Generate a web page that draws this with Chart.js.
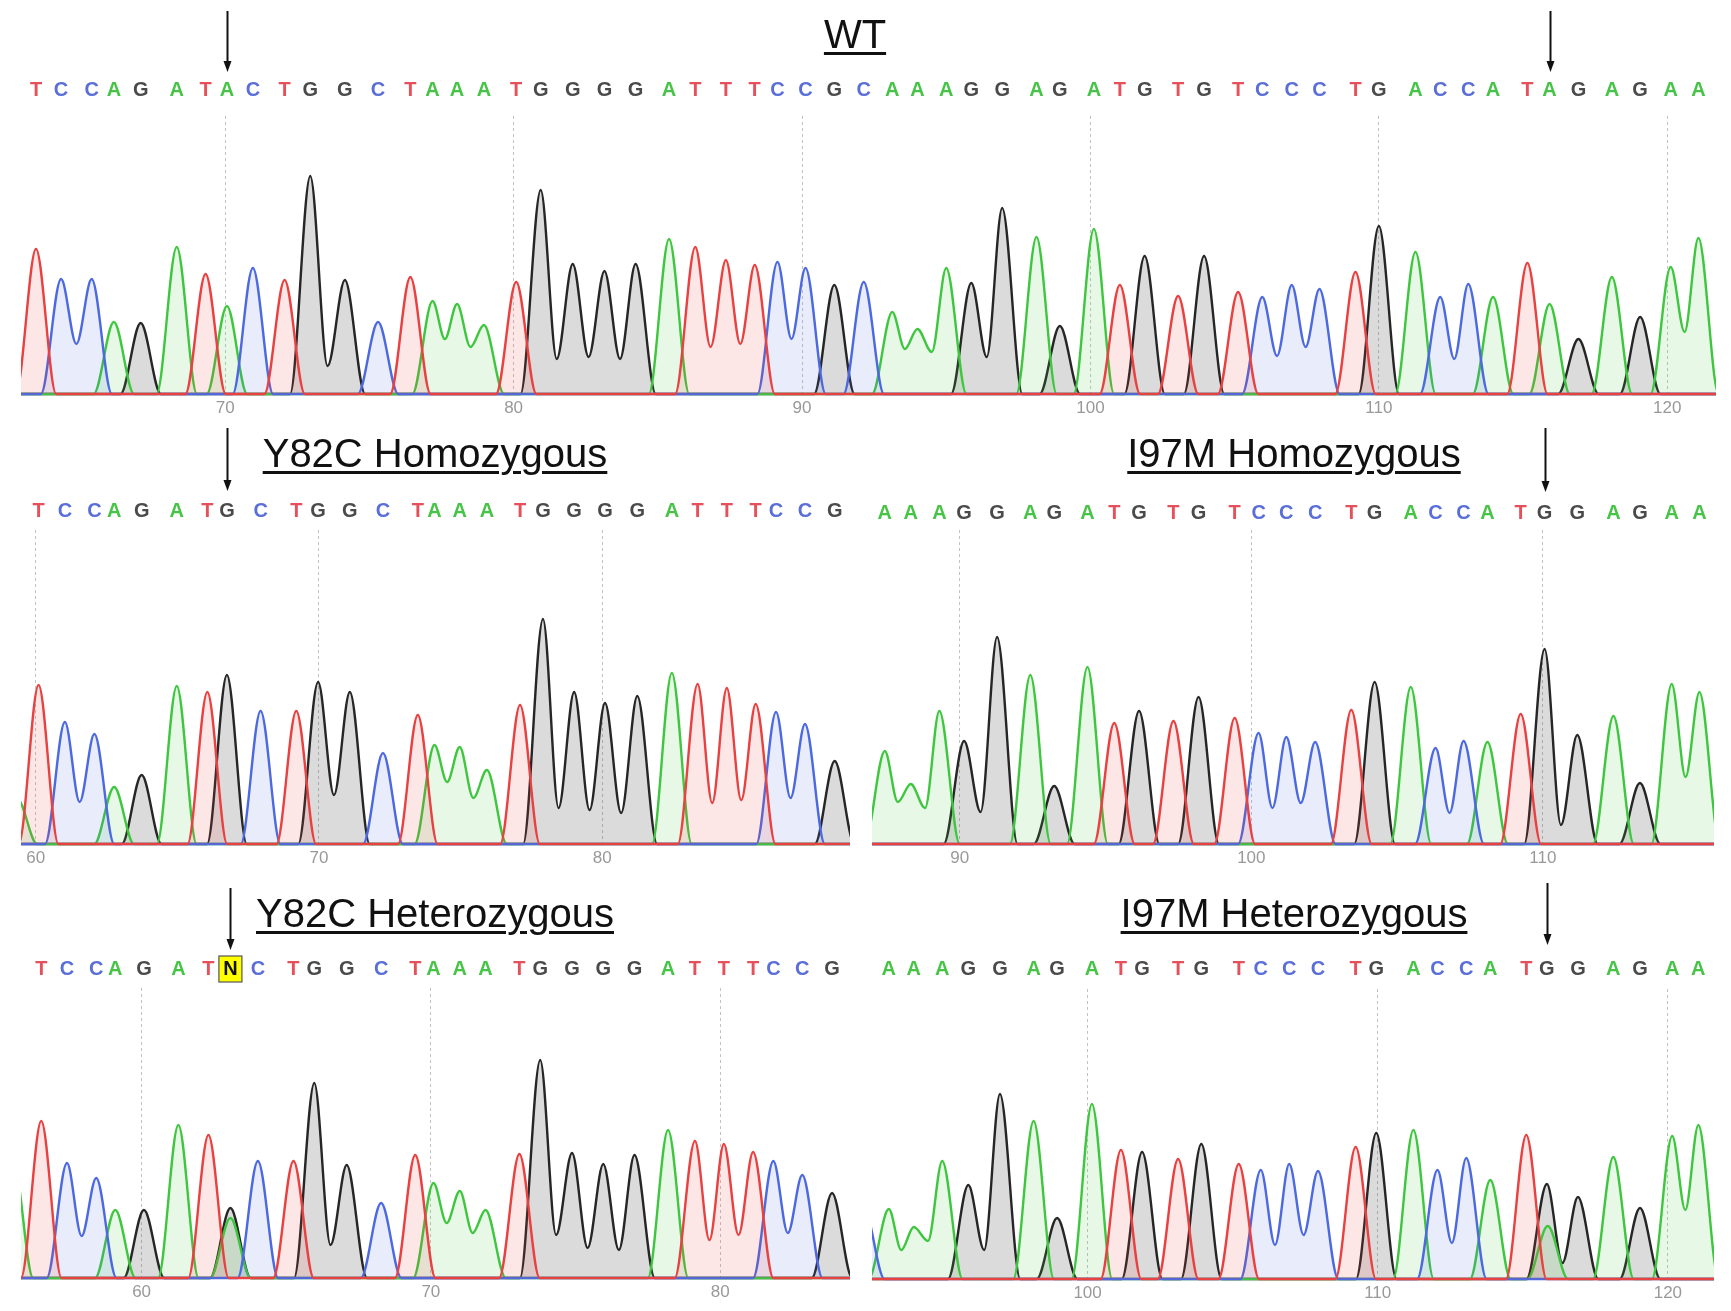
<!DOCTYPE html>
<html><head><meta charset="utf-8">
<script src="https://cdn.jsdelivr.net/npm/chart.js@4.4.1/dist/chart.umd.min.js"></script>
<style>
html,body{margin:0;padding:0;background:#fff;}
#page{position:relative;width:1731px;height:1311px;overflow:hidden;background:#fff;}
canvas{position:absolute;}
.ttl{position:absolute;font-family:"Liberation Sans",Arial,sans-serif;font-size:40px;line-height:40px;color:#111;white-space:nowrap;transform:translateX(-50%);text-decoration:underline;text-decoration-thickness:3px;text-underline-offset:4px;z-index:2;}
</style></head><body><div id="page">
<canvas id="c0" width="1731" height="420" style="left:0px;top:0px"></canvas>
<canvas id="c1" width="860" height="460" style="left:0px;top:420px"></canvas>
<canvas id="c2" width="871" height="460" style="left:860px;top:420px"></canvas>
<canvas id="c3" width="860" height="431" style="left:0px;top:880px"></canvas>
<canvas id="c4" width="871" height="431" style="left:860px;top:880px"></canvas>
<div class="ttl" style="left:855px;top:14px">WT</div>
<div class="ttl" style="left:435px;top:433px">Y82C Homozygous</div>
<div class="ttl" style="left:1294px;top:433px">I97M Homozygous</div>
<div class="ttl" style="left:435px;top:893px">Y82C Heterozygous</div>
<div class="ttl" style="left:1294px;top:893px">I97M Heterozygous</div>
</div>
<script>
// ---------- DATA ----------
// WT
const wtBases = 'TCCAGATACTGGCTAAATGGGGATTTCCGCAAAGGAGATGTGTCCCTGACCATAGAGAA'.split('');
const wtPos = [63.44,64.31,65.37,66.14,67.07,68.32,69.32,70.06,70.96,72.06,72.95,74.15,75.30,76.42,77.19,78.04,78.97,80.09,80.94,82.05,83.15,84.23,85.39,86.30,87.36,88.36,89.15,90.12,91.12,92.14,93.13,94.00,95.00,95.87,96.94,98.13,98.94,100.12,101.02,101.88,103.04,103.94,105.12,105.96,106.98,107.94,109.19,110.00,111.27,112.13,113.10,113.96,115.15,115.92,116.92,118.08,119.06,120.12,121.08];
const wtHeight = [145,115,115,72,71,147,120,88,126,114,218,114,72,117,93,90,69,112,204,130,123,130,155,147,134,129,132,126,109,112,82,65,126,111,186,157,68,165,109,138,98,138,102,97,109,105,122,168,142,97,110,97,131,90,55,117,77,127,156];
const wtDips = [[2,50],[11,28],[15,55],[16,47],[19,35],[20,37],[21,35],[24,47],[25,50],[27,55],[31,45],[32,42],[34,37],[44,38],[45,47],[50,35],[58,62]];
const wtExtra = [];
const wtTicks = [70,80,90,100,110,120];
const wtArrows = [8,54];

// Y82C Homozygous
const y82HomBases = 'TCCAGATGCTGGCTAAATGGGGATTTCCG'.split('');
const y82HomPos = [60.10,61.03,62.07,62.77,63.74,64.98,66.06,66.75,67.94,69.20,69.97,71.09,72.26,73.49,74.08,74.97,75.93,77.10,77.91,79.01,80.10,81.24,82.46,83.37,84.40,85.42,86.14,87.16,88.21];
const y82HomHeight = [159,122,110,57,69,158,152,169,133,133,162,152,91,129,99,97,74,139,225,152,141,148,171,160,156,140,132,120,83];
const y82HomDips = [[2,42],[11,49],[15,62],[16,46],[19,36],[20,34],[21,31],[24,41],[25,44],[27,46]];
const y82HomExtra = [['A',59.35,45]];
const y82HomTicks = [60,70,80];
const y82HomArrows = [8];

// I97M Homozygous
const i97HomBases = 'AAAGGAGATGTGTCCCTGACCATGGAGAA'.split('');
const i97HomPos = [87.43,88.32,89.30,90.15,91.28,92.42,93.24,94.38,95.30,96.15,97.33,98.19,99.43,100.25,101.20,102.19,103.43,104.23,105.47,106.32,107.28,108.10,109.24,110.06,111.18,112.42,113.33,114.42,115.37];
const i97HomHeight = [93,60,133,103,207,169,58,177,121,133,123,147,126,111,107,102,134,162,157,96,103,102,130,195,109,128,61,160,152];
const i97HomDips = [[1,42],[2,36],[4,32],[14,36],[15,41],[20,31],[24,19],[28,67]];
const i97HomExtra = [];
const i97HomTicks = [90,100,110];
const i97HomArrows = [24];

// Y82C Heterozygous
const y82HetBases = 'TCCAGATNCTGGCTAAATGGGGATTTCCG'.split('');
const y82HetPos = [56.53,57.42,58.43,59.09,60.08,61.27,62.31,63.07,64.02,65.25,65.97,67.09,68.28,69.46,70.09,71.00,71.89,73.06,73.78,74.88,75.96,77.04,78.20,79.13,80.13,81.14,81.84,82.84,83.87];
const y82HetHeight = [157,115,100,68,68,153,143,70,117,117,195,113,75,123,95,87,68,124,218,125,114,123,148,137,134,126,117,103,85];
const y82HetDips = [[2,42],[11,33],[15,55],[16,45],[19,43],[20,30],[21,28],[24,38],[25,43],[27,45]];
const y82HetExtra = [['A',63.07,60],['A',55.55,120]];
const y82HetTicks = [60,70,80];
const y82HetArrows = [8];

// I97M Heterozygous
const i97HetBases = 'AAAGGAGATGTGTCCCTGACCATGGAGAA'.split('');
const i97HetPos = [93.15,94.01,94.99,95.89,96.98,98.14,98.95,100.15,101.15,101.88,103.12,103.92,105.21,105.97,106.95,107.94,109.24,109.95,111.23,112.06,113.05,113.88,115.12,115.83,116.90,118.12,119.04,120.15,121.05];
const i97HetHeight = [70,52,118,94,185,158,61,175,129,127,120,135,115,109,115,108,132,146,149,109,121,99,144,95,82,122,71,143,154];
const i97HetDips = [[1,29],[2,38],[4,29],[14,34],[15,44],[20,36],[24,16],[28,69]];
const i97HetExtra = [['A',115.86,53],['C',92.3,70]];
const i97HetTicks = [100,110,120];
const i97HetArrows = [24];

// ---------- STYLE ----------
const FONT = '"Liberation Sans", Arial, sans-serif';
const LINE = {A:'#3fc63f', C:'#4d69df', G:'#262626', T:'#e84141'};
const FILL = {A:'rgba(70,200,70,0.13)', C:'rgba(80,105,225,0.13)', G:'rgba(40,40,40,0.17)', T:'rgba(232,65,65,0.13)'};
const LETTER = {A:'#47c447', C:'#5a6ed8', G:'#4a4a4a', T:'#e6505a', N:'#111'};
const HW = 0.7;

function buildPoints(ch, d) {
  const dipMap = {};
  d.dips.forEach(([k, v]) => { dipMap[k] = v; });
  const peaks = [];
  d.bases.forEach((b, i) => {
    if (b === ch || (b === 'N' && ch === 'G')) peaks.push({x: d.pos[i], h: d.height[i], idx: i});
  });
  d.extra.forEach(([c, x, h]) => { if (c === ch) peaks.push({x: x, h: h, idx: -10}); });
  peaks.sort((a, b) => a.x - b.x);
  const pts = [{x: d.min - 2, y: 0}];
  let prev = null;
  for (const p of peaks) {
    if (prev && p.idx === prev.idx + 1 && dipMap[prev.idx + 1] !== undefined) {
      pts.push({x: (prev.x + p.x) / 2, y: dipMap[prev.idx + 1]});
    } else if (prev) {
      const a = prev.x + HW, b = p.x - HW;
      if (b > a) { pts.push({x: a, y: 0}); pts.push({x: b, y: 0}); }
      else pts.push({x: (prev.x + p.x) / 2, y: 0});
    } else {
      pts.push({x: p.x - HW, y: 0});
    }
    pts.push({x: p.x, y: p.h});
    prev = p;
  }
  if (prev) pts.push({x: prev.x + HW, y: 0});
  pts.push({x: d.max + 2, y: 0});
  return pts;
}

function makePanel(id, d, L) {
  const datasets = ['T', 'C', 'A', 'G'].map(ch => ({
    label: ch,
    data: buildPoints(ch, d),
    borderColor: LINE[ch],
    backgroundColor: FILL[ch],
    fill: 'origin',
    borderWidth: 2.4,
    pointRadius: 0,
    cubicInterpolationMode: 'monotone',
    xAxisID: 'x', yAxisID: 'y'
  }));
  const letterCY = L.topH - L.topPad - 12;
  const marks = {
    id: 'marks' + id,
    beforeDraw(chart) {
      const xs = chart.scales.x, ctx = chart.ctx;
      d.bases.forEach((b, i) => {
        if (b !== 'N') return;
        const x = xs.getPixelForValue(d.pos[i]);
        ctx.save();
        ctx.fillStyle = '#ffff00';
        ctx.strokeStyle = '#555';
        ctx.lineWidth = 1.2;
        ctx.fillRect(x - 11.5, letterCY - 13, 23, 26);
        ctx.strokeRect(x - 11.5, letterCY - 13, 23, 26);
        ctx.restore();
      });
    },
    afterDraw(chart) {
      const xs = chart.scales.x, ctx = chart.ctx;
      d.arrows.forEach(n => {
        const x = Math.round(xs.getPixelForValue(d.pos[n - 1])) + 0.5;
        ctx.save();
        ctx.strokeStyle = '#111';
        ctx.fillStyle = '#111';
        ctx.lineWidth = 2;
        ctx.beginPath();
        ctx.moveTo(x, L.arrowTop);
        ctx.lineTo(x, L.arrowBottom - 8);
        ctx.stroke();
        ctx.beginPath();
        ctx.moveTo(x - 4, L.arrowBottom - 11);
        ctx.lineTo(x + 4, L.arrowBottom - 11);
        ctx.lineTo(x, L.arrowBottom);
        ctx.closePath();
        ctx.fill();
        ctx.restore();
      });
    }
  };
  return new Chart(document.getElementById(id), {
    type: 'line',
    data: {datasets: datasets},
    options: {
      responsive: false,
      animation: false,
      events: [],
      layout: {padding: {left: L.padL, right: L.padR, top: 0, bottom: 0}},
      plugins: {legend: {display: false}, tooltip: {enabled: false}, title: {display: false}},
      scales: {
        x: {
          type: 'linear', position: 'bottom', min: d.min, max: d.max, bounds: 'data',
          afterBuildTicks: s => { s.ticks = d.ticks.map(v => ({value: v})); },
          afterFit: s => { s.height = L.bottomH; },
          ticks: {autoSkip: false, maxRotation: 0, padding: 1, color: '#999999',
                  font: {family: FONT, size: 17}, callback: v => String(v)},
          grid: {color: 'rgba(0,0,0,0.24)', lineWidth: 1, drawTicks: false},
          border: {display: false, dash: [3, 3]}
        },
        top: {
          type: 'linear', position: 'top', min: d.min, max: d.max, bounds: 'data',
          afterBuildTicks: s => { s.ticks = d.pos.map(v => ({value: v})); },
          afterFit: s => { s.height = L.topH; },
          ticks: {autoSkip: false, maxRotation: 0, minRotation: 0, padding: L.topPad,
                  font: {family: FONT, size: 20, weight: 'bold'},
                  color: c => LETTER[d.bases[c.index]] || '#444',
                  callback: (v, i) => d.bases[i]},
          grid: {display: false, drawTicks: false},
          border: {display: false}
        },
        y: {display: false, min: -3, max: L.ymax}
      }
    },
    plugins: [marks]
  });
}

makePanel('c0', {bases: wtBases, pos: wtPos, height: wtHeight, dips: wtDips, extra: wtExtra,
  ticks: wtTicks, arrows: wtArrows, min: 62.92, max: 121.69},
  {padL: 21, padR: 15, topH: 116, topPad: 14, bottomH: 23, ymax: 278, arrowTop: 11, arrowBottom: 72});
makePanel('c1', {bases: y82HomBases, pos: y82HomPos, height: y82HomHeight, dips: y82HomDips, extra: y82HomExtra,
  ticks: y82HomTicks, arrows: y82HomArrows, min: 59.48, max: 88.75},
  {padL: 21, padR: 10, topH: 110, topPad: 7, bottomH: 33, ymax: 314, arrowTop: 8, arrowBottom: 71});
makePanel('c2', {bases: i97HomBases, pos: i97HomPos, height: i97HomHeight, dips: i97HomDips, extra: i97HomExtra,
  ticks: i97HomTicks, arrows: i97HomArrows, min: 86.99, max: 115.87},
  {padL: 12, padR: 17, topH: 110, topPad: 5, bottomH: 33, ymax: 314, arrowTop: 8, arrowBottom: 72});
makePanel('c3', {bases: y82HetBases, pos: y82HetPos, height: y82HetHeight, dips: y82HetDips, extra: y82HetExtra,
  ticks: y82HetTicks, arrows: y82HetArrows, min: 55.83, max: 84.49},
  {padL: 21, padR: 10, topH: 108, topPad: 7, bottomH: 30, ymax: 290, arrowTop: 8, arrowBottom: 70});
makePanel('c4', {bases: i97HetBases, pos: i97HetPos, height: i97HetHeight, dips: i97HetDips, extra: i97HetExtra,
  ticks: i97HetTicks, arrows: i97HetArrows, min: 92.57, max: 121.59},
  {padL: 12, padR: 17, topH: 109, topPad: 8, bottomH: 29, ymax: 290, arrowTop: 3, arrowBottom: 65});
</script>
</body></html>
